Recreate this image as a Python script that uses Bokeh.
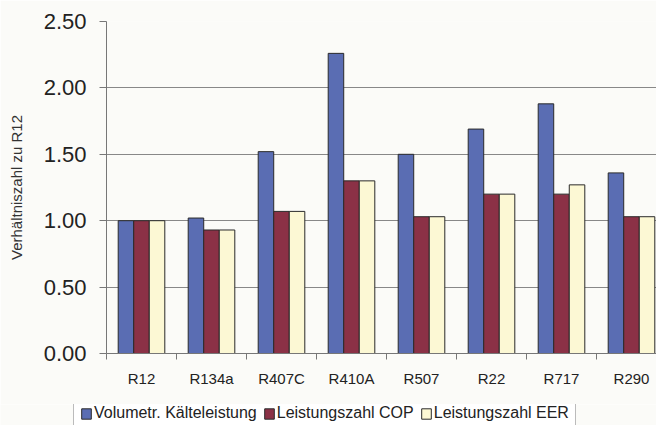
from bokeh.plotting import figure
from bokeh.models import ColumnDataSource, Range1d, FixedTicker, Legend, LegendItem, NumeralTickFormatter
from bokeh.layouts import column
from bokeh.transform import dodge
from bokeh.embed import file_html
from bokeh.resources import INLINE

categories = ["R12", "R134a", "R407C", "R410A", "R507", "R22", "R717", "R290"]
volumetr = [1.00, 1.02, 1.52, 2.26, 1.50, 1.69, 1.88, 1.36]
cop = [1.00, 0.93, 1.07, 1.30, 1.03, 1.20, 1.20, 1.03]
eer = [1.00, 0.93, 1.07, 1.30, 1.03, 1.20, 1.27, 1.03]
series_names = ["Volumetr. Kälteleistung", "Leistungszahl COP", "Leistungszahl EER"]
colors = ["#5a6db3", "#8b3146", "#fcf8d4"]
y_ticks = [0.0, 0.5, 1.0, 1.5, 2.0, 2.5]

pos = [i + 0.5 for i in range(len(categories))]
src = ColumnDataSource(dict(x=pos, v=volumetr, c=cop, e=eer))

FONT = "Liberation Sans"
BG = "#fbfbf8"

p = figure(width=656, height=404, output_backend="svg", toolbar_location=None,
           x_range=Range1d(0, 550 / 70), y_range=Range1d(0, 2.5),
           min_border_left=106, min_border_right=0, min_border_top=21, min_border_bottom=51)
p.frame_align = False
p.background_fill_color = BG
p.border_fill_color = BG
p.outline_line_color = None

bw = 0.222
for col, off, color in zip(["v", "c", "e"], [-bw, 0, bw], colors):
    p.vbar(x=dodge("x", off), top=col, bottom=0, width=bw, source=src,
           fill_color=color, line_color="#2a2a2a", line_width=1)

# axes
p.xaxis.ticker = FixedTicker(ticks=pos, minor_ticks=list(range(len(categories) + 1)))
p.xaxis.major_label_overrides = {x: c for x, c in zip(pos, categories)}
p.xaxis.major_tick_line_color = None
p.xaxis.minor_tick_line_color = "#777777"
p.xaxis.minor_tick_out = 6
p.xaxis.minor_tick_in = 0
p.xaxis.axis_line_color = "#777777"
p.xaxis.major_label_text_font = FONT
p.xaxis.major_label_text_font_size = "15px"
p.xaxis.major_label_text_color = "#222222"
p.xaxis.major_label_standoff = 10

p.yaxis.ticker = FixedTicker(ticks=y_ticks)
p.yaxis.formatter = NumeralTickFormatter(format="0.00")
p.yaxis.major_label_text_font = FONT
p.yaxis.major_label_text_font_size = "22px"
p.yaxis.major_label_text_color = "#222222"
p.yaxis.major_tick_out = 7
p.yaxis.major_tick_in = 0
p.yaxis.major_tick_line_color = "#777777"
p.yaxis.minor_tick_line_color = None
p.yaxis.axis_line_color = "#777777"
p.yaxis.major_label_standoff = 13
p.yaxis.axis_label = "Verhältniszahl zu R12"
p.yaxis.axis_label_text_font = FONT
p.yaxis.axis_label_text_font_size = "15px"
p.yaxis.axis_label_text_font_style = "normal"
p.yaxis.axis_label_text_color = "#333333"
p.yaxis.axis_label_standoff = 16

p.xgrid.grid_line_color = None
p.ygrid.grid_line_color = "#888888"
p.ygrid.grid_line_width = 1

# legend strip below the chart
lg = figure(width=656, height=21, output_backend="svg", toolbar_location=None,
            x_range=Range1d(0, 1), y_range=Range1d(0, 1),
            x_axis_location=None, y_axis_location=None,
            min_border_left=0, min_border_right=0, min_border_top=0, min_border_bottom=0)
lg.frame_align = False
lg.background_fill_color = BG
lg.border_fill_color = BG
lg.outline_line_color = None
lg.grid.grid_line_color = None
dummies = []
for color in colors:
    dummies.append(lg.vbar(x=[5], top=[5], bottom=[4], width=0.1,
                           fill_color=color, line_color="#2a2a2a"))

legend = Legend(items=[LegendItem(label=n, renderers=[r]) for n, r in zip(series_names, dummies)],
                orientation="horizontal", location=(73, -4))
legend.label_text_font = FONT
legend.label_text_font_size = "16px"
legend.label_text_line_height = 0.8
legend.label_text_color = "#222222"
legend.label_height = 13
legend.glyph_width = 12
legend.glyph_height = 13
legend.label_standoff = 2
legend.spacing = 6
legend.padding = 6
legend.margin = 0
legend.border_line_color = "#777777"
legend.background_fill_color = "#ffffff"
legend.background_fill_alpha = 1
lg.add_layout(legend, "center")

layout = column(p, lg, spacing=0)
open("out.html", "w").write(file_html(layout, INLINE))
